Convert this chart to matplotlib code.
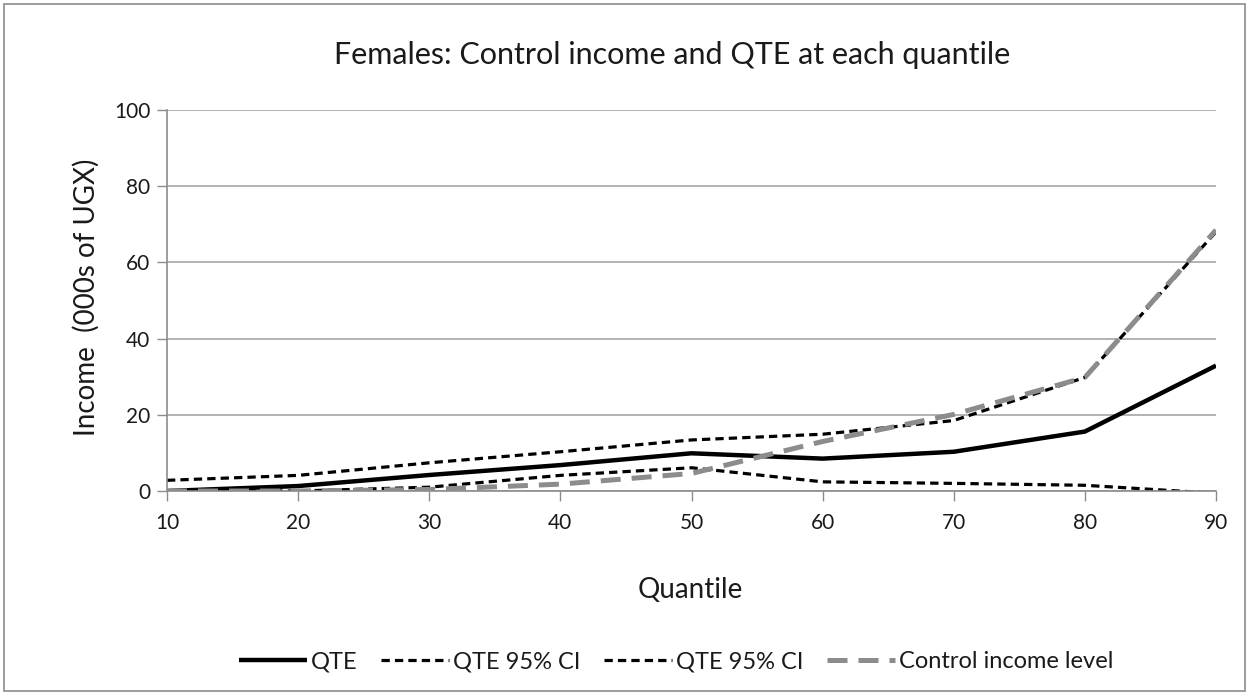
import matplotlib
matplotlib.use("Agg")
import matplotlib.pyplot as plt
from matplotlib.patches import Rectangle

quantiles = [10, 20, 30, 40, 50, 60, 70, 80, 90]
qte = [0.0, 1.3, 4.2, 6.8, 9.9, 8.5, 10.3, 15.6, 32.9]
ci_upper = [2.8, 4.1, 7.4, 10.3, 13.4, 14.9, 18.5, 29.8, 68.0]
ci_lower = [0.0, 0.0, 1.0, 4.1, 6.1, 2.4, 2.0, 1.5, -0.6]
control = [0.0, 0.0, 0.4, 1.8, 4.6, 13.0, 20.1, 29.8, 68.5]
yticks = [0, 20, 40, 60, 80, 100]

plt.rcParams['font.family'] = ['Lato', 'DejaVu Sans']

W, H = 1249, 695
fig = plt.figure(figsize=(W / 100, H / 100), dpi=100)
ax = fig.add_axes([167 / W, 1 - 491 / H, (1216 - 167) / W, (491 - 110) / H])

ax.plot(quantiles, qte, color='black', lw=3.2, solid_capstyle='butt', label='QTE')
ax.plot(quantiles, ci_upper, color='black', lw=2.3, dashes=(2.6, 1.6), label='QTE 95% CI')
ax.plot(quantiles, ci_lower, color='black', lw=2.3, dashes=(2.6, 1.6), label='QTE 95% CI')
ax.plot(quantiles, control, color='#8c8c8c', lw=3.6, dashes=(4.0, 2.2), label='Control income level')

ax.set_xlim(10, 90)
ax.set_ylim(0, 100)
ax.set_xticks(quantiles)
ax.set_yticks(yticks)
ax.tick_params(axis='both', labelsize=15, colors='#8c8c8c', labelcolor='#1a1a1a', length=7, width=1)
ax.tick_params(axis='x', pad=9)
ax.tick_params(axis='y', pad=5)
ax.grid(axis='y', color='#a6a6a6', lw=1.2)
ax.set_axisbelow(True)
for s in ['top', 'right']:
    ax.spines[s].set_visible(False)
for s in ['left', 'bottom']:
    ax.spines[s].set_color('#8c8c8c')
    ax.spines[s].set_linewidth(1.2)

fig.text(672 / W, 1 - 55 / H, 'Females: Control income and QTE at each quantile',
         ha='center', va='center', fontsize=22, color='#1a1a1a')
fig.text(86 / W, 1 - 297 / H, 'Income  (000s of UGX)', ha='center', va='center',
         rotation=90, fontsize=20, color='#1a1a1a')
fig.text(690 / W, 1 - 590 / H, 'Quantile', ha='center', va='center', fontsize=20,
         color='#1a1a1a')

leg = fig.legend(loc='center', bbox_to_anchor=(676 / W, 1 - 662 / H), ncol=4,
                 frameon=False, fontsize=17, handlelength=2.9, handletextpad=0.15,
                 columnspacing=1.0)
for t in leg.get_texts():
    t.set_color('#1a1a1a')

fig.patches.append(Rectangle((4 / W, 4 / H), 1 - 8 / W, 1 - 8 / H, transform=fig.transFigure,
                             fill=False, edgecolor='#8c8c8c', lw=1.2))

fig.savefig('out.png', dpi=100)
